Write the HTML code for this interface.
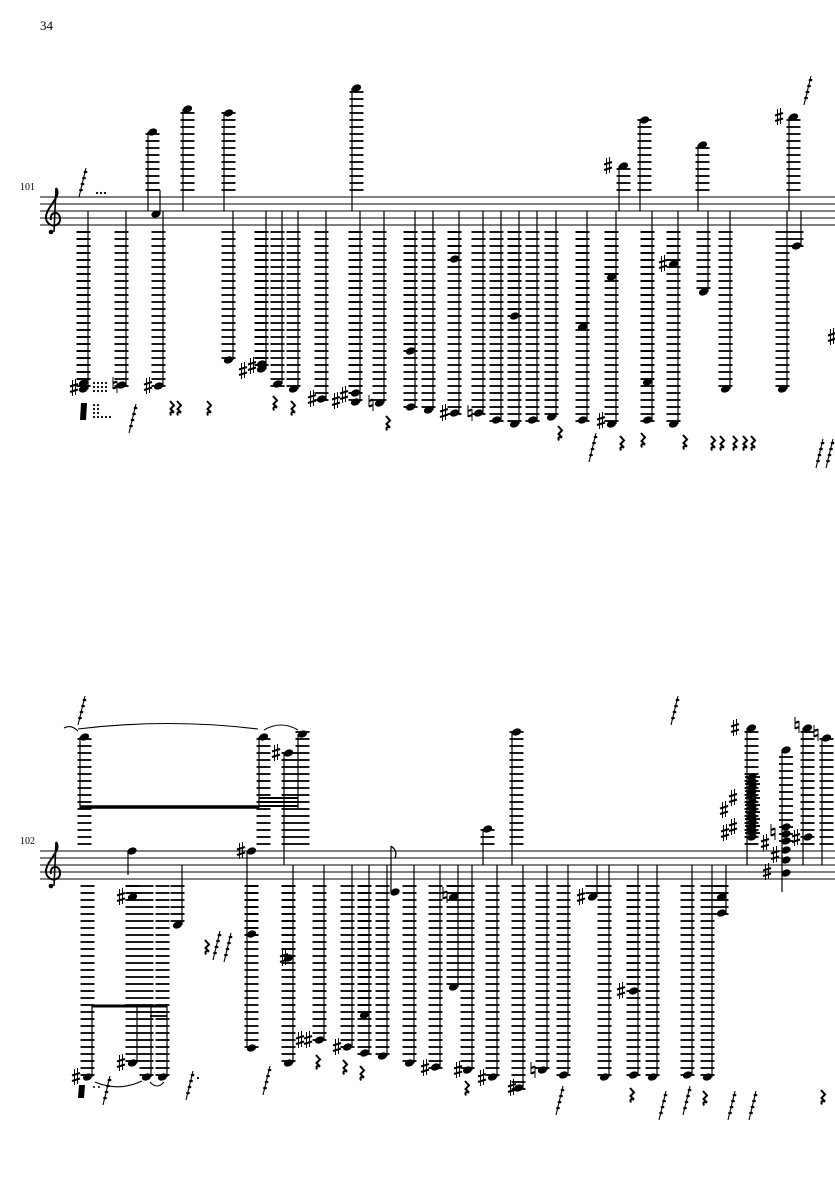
<!DOCTYPE html>
<html><head><meta charset="utf-8"><style>
html,body{margin:0;padding:0;background:#fff;width:835px;height:1181px;overflow:hidden}
svg{display:block}
text{font-family:"Liberation Serif",serif;fill:#000}
</style></head><body>
<svg id="s" xmlns="http://www.w3.org/2000/svg" width="835" height="1181" viewBox="0 0 835 1181">
<text x="40" y="30" font-size="13">34</text>
<text x="20" y="190" font-size="10">101</text>
<text x="20" y="844" font-size="10">102</text>
</svg>
<script>
const svg=document.getElementById('s');
let out='';
function L(x1,y1,x2,y2,w){out+=`<line x1="${x1}" y1="${y1}" x2="${x2}" y2="${y2}" stroke="#000" stroke-width="${w||1.2}"/>`;}
function H(x,y){out+=`<ellipse cx="${x}" cy="${y}" rx="4.8" ry="3.4" transform="rotate(-22 ${x} ${y})" fill="#000"/>`;}
function led(hx,y,T){const B=T+28;if(y>B+3){for(let ly=B+7;ly<=y+2;ly+=7)L(hx-7,ly,hx+7,ly,1.8);}if(y<T-3){for(let ly=T-7;ly>=y-2;ly-=7)L(hx-7,ly,hx+7,ly,1.8);}}
function up(sx,ys,T,end){const hx=sx-4.5;ys.forEach(y=>{led(hx,y,T);H(hx,y);});const m=T+14;L(sx,Math.max(...ys),sx,end!==undefined?end:Math.min(m,...ys));}
function dn(sx,ys,T,end){const hx=sx+4.5;ys.forEach(y=>{led(hx,y,T);H(hx,y);});const m=T+14;L(sx,Math.min(...ys),sx,end!==undefined?end:Math.max(m,...ys));}
function acc(x,y,t){
 if(t=='n'){L(x-2,y-8,x-2,y+4,1);L(x+2,y-4,x+2,y+8,1);L(x-2,y-2,x+2,y-3.5,2.2);L(x-2,y+3.5,x+2,y+2,2.2);}
 else{L(x-1.5,y-8,x-1.5,y+8,1);L(x+1.5,y-9,x+1.5,y+7,1);L(x-4,y-1.5,x+4,y-4,2.2);L(x-4,y+4,x+4,y+1.5,2.2);}
}
function rest(x,y){out+=`<path d="M${x-2},${y-7} l4,4.5 l-3.5,3.5 l3.5,3.5 q-5,-1.5 -3,3" fill="none" stroke="#000" stroke-width="2"/>`;}
function grace(x,y){L(x-4,y+15,x+3,y-14,1.1);for(let i=0;i<4;i++){const yy=y-10+i*6,xx=x+2.5-i*1.5;out+=`<ellipse cx="${xx}" cy="${yy}" rx="1.9" ry="1.3" fill="#000"/>`;}}
function staff(T){for(let i=0;i<5;i++)L(40,T+i*7,835,T+i*7,1);
out+=`<path d="M56,${T-9} C63,${T-1} 45,${T+11} 46,${T+21} C47,${T+31} 61,${T+31} 60,${T+21} C59,${T+13} 49,${T+15} 51,${T+23}" fill="none" stroke="#000" stroke-width="2"/>`;
L(56,T-9,54,T+35,1.6);out+=`<circle cx="51" cy="${T+35}" r="2.3" fill="#000"/>`;}
// ===== System 1 =====
const A=197;staff(A);
up(88,[389,383],A);acc(74,388,'#');
up(126,[385],A);acc(115,385,'n');
dn(148,[132],A);H(156,214);L(160,214,160,190);L(148,190,160,190,2);
up(163,[386],A);acc(148,386,'#');
dn(183,[109],A);
dn(224,[113],A);up(233,[360],A);
up(266,[369,364],A);acc(243,371,'#');acc(252,366,'#');
up(282,[384],A);up(298,[389],A);up(326,[399],A);acc(312,399,'#');
dn(352,[88],A);up(360,[402,393],A);acc(336,401,'#');acc(344,395,'#');
up(384,[403],A);acc(371,403,'n');
up(415,[351,407],A);up(433,[410],A);up(459,[259,413],A);acc(444,413,'#');
up(483,[413],A);acc(470,413,'n');up(501,[420],A);up(519,[316,424],A);up(537,[420],A);up(556,[417],A);
up(587,[327,420],A);up(616,[277,424],A);acc(601,421,'#');
dn(619,[166],A);acc(608,166,'#');
dn(640,[120],A);up(652,[382,420],A);up(678,[264,424],A);acc(663,264,'#');
dn(698,[145],A);up(708,[292],A);up(730,[389],A);
dn(789,[117],A);acc(779,117,'#');up(787,[389],A);up(801,[246],A);acc(832,337,'#');
[[172,408],[179,408],[209,408],[275,403],[293,408],[388,423],[560,433],[622,443],[643,440],[685,442],[713,443],[722,443],[735,443],[745,443],[753,443]].forEach(p=>rest(p[0],p[1]));
[[83,182],[133,418],[593,447],[808,90],[820,453],[830,453]].forEach(p=>grace(p[0],p[1]));
for(let i=0;i<3;i++)out+=`<circle cx="${97+i*4}" cy="193" r="1.1" fill="#000"/>`;
for(let r=0;r<3;r++)for(let c=0;c<4;c++)out+=`<circle cx="${94+c*4}" cy="${383+r*4}" r="1.1" fill="#000"/>`;
for(let r=0;r<4;r++)for(let c=0;c<(r<3?2:5);c++)out+=`<circle cx="${94+c*4}" cy="${405+r*4}" r="1.1" fill="#000"/>`;
out+=`<path d="M81,403 l6,0 l-1,17 l-6,0z" fill="#000"/>`;
// ===== System 2 =====
const B=851;staff(B);
dn(80,[737],B,808);dn(259,[737],B,808);L(80,807,259,807,3.5);
for(let i=0;i<3;i++)L(259,798+i*4,298,798+i*4,2);
dn(284,[753],B);acc(276,753,'#');dn(298,[734],B,809);
out+=`<path d="M78,729 Q168,718 258,729" fill="none" stroke="#000" stroke-width="1.1"/><path d="M64,728 Q71,724 78,731" fill="none" stroke="#000" stroke-width="1.1"/><path d="M264,730 Q281,720 298,730" fill="none" stroke="#000" stroke-width="1.1"/>`;
up(293,[958,1063],B);acc(284,958,'#');
up(92,[1077],B,1005);acc(76,1077,'#');L(92,1006,167,1006,3);L(150,1012,167,1012,1.8);L(150,1016,167,1016,1.8);
H(132,851);L(128,851,128,875);
up(137,[897,1063],B,1006);acc(121,897,'#');acc(121,1063,'#');
up(151,[1077],B,1006);up(167,[1077],B,1006);
out+=`<path d="M95,1082 Q118,1092 142,1081" fill="none" stroke="#000" stroke-width="1.1"/><path d="M150,1082 Q157,1090 164,1082" fill="none" stroke="#000" stroke-width="1.1"/>`;
up(182,[925],B);
dn(247,[851,934,1048],B);acc(241,851,'#');
up(324,[1040],B);acc(300,1040,'#');acc(308,1040,'#');
up(352,[1047],B);acc(337,1047,'#');
up(369,[1015,1053],B);up(387,[1056],B);
H(395,892);L(391,846,391,892);out+=`<path d="M391,846 q7,5 4,12" fill="none" stroke="#000" stroke-width="1.3"/>`;
up(414,[1063],B);up(440,[1067],B);acc(425,1068,'#');
up(458,[897,987],B);acc(445,895,'n');
up(472,[1070],B);acc(458,1070,'#');
dn(483,[829],B);up(497,[1077],B);acc(482,1078,'#');
dn(512,[732],B);up(523,[1088],B);acc(512,1088,'#');
up(547,[1070],B);acc(533,1070,'n');
up(568,[1075],B);up(597,[897],B);acc(581,897,'#');
up(609,[1077],B);up(638,[991,1075],B);acc(621,991,'#');
up(657,[1077],B);up(692,[1075],B);up(712,[1077],B);up(726,[897,913],B);
dn(747,[728],B);acc(735,728,'#');
for(let y=777;y<=837;y+=5){H(752,y);}for(let y=777;y<=837;y+=7)L(745,y,760,y,1.8);
acc(724,810,'#');acc(733,798,'#');acc(725,833,'#');acc(733,827,'#');
L(782,750,782,892);H(786,750);for(let y=757;y<845;y+=7)L(779,y,793,y,1.8);
[827,834,841,850,860,873].forEach(y=>H(786,y));
acc(773,832,'n');acc(765,843,'#');acc(775,855,'#');acc(767,872,'#');
dn(803,[728],B);acc(797,725,'n');H(808,837);acc(796,838,'#');
dn(822,[738],B);acc(816,733,'n');
[[207,947],[318,1062],[345,1067],[362,1073],[467,1088],[632,1095],[705,1098],[823,1097]].forEach(p=>rest(p[0],p[1]));
[[82,710],[217,945],[228,947],[107,1090],[190,1085],[267,1080],[560,1100],[663,1105],[687,1100],[732,1105],[753,1105],[675,710]].forEach(p=>grace(p[0],p[1]));
out+=`<path d="M79,1085 l6,0 l-1,13 l-6,0z" fill="#000"/><circle cx="198" cy="1078" r="1.1" fill="#000"/><circle cx="94" cy="1087" r="1" fill="#000"/><circle cx="99" cy="1087" r="1" fill="#000"/>`;
svg.insertAdjacentHTML('beforeend',out);
</script>
</body></html>
